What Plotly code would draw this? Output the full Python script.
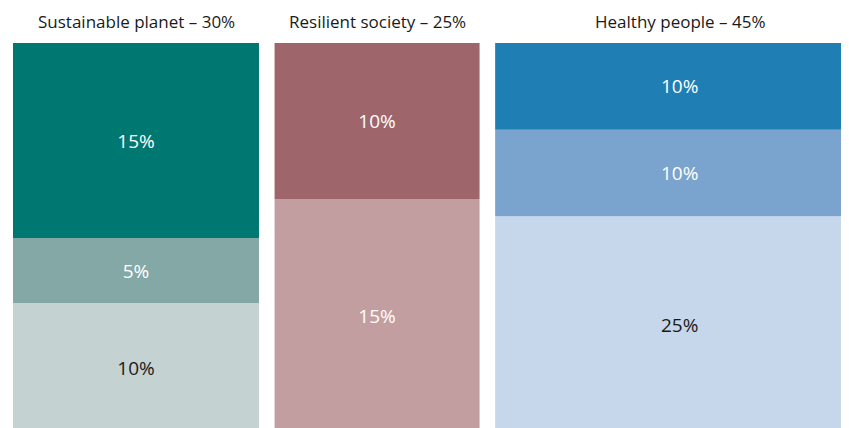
import plotly.graph_objects as go

# pillar names and their share of the total
pillars = ["Sustainable planet", "Resilient society", "Healthy people"]
pillar_share = [30, 25, 45]

# segments in each pillar, listed top to bottom
segment_values = [
    [15, 5, 10],
    [10, 15],
    [10, 10, 25],
]
segment_colors = [
    ["#007872", "#84a8a6", "#c4d2d2"],
    ["#9e666b", "#c39ea1"],
    ["#1f7eb4", "#7aa4cd", "#c6d6eb"],
]
segment_text_colors = [
    ["#ffffff", "#ffffff", "#1a1a1a"],
    ["#ffffff", "#ffffff"],
    ["#ffffff", "#ffffff", "#1a1a1a"],
]

GAP = 1.9  # space between columns, in share units
FONT = "'Open Sans', sans-serif"

fig = go.Figure()
annotations = []

left = 0
for name, share, vals, cols, tcols in zip(pillars, pillar_share, segment_values,
                                          segment_colors, segment_text_colors):
    center = left + share / 2
    total = sum(vals)
    # stack from the bottom up, each column scaled to 100
    base = 0
    for v, c, tc in reversed(list(zip(vals, cols, tcols))):
        h = v / total * 100
        fig.add_trace(go.Bar(
            x=[center], y=[h], base=[base], width=[share],
            marker=dict(color=c, line=dict(width=0)),
            opacity=1,
            text=[f"{v}%"], textposition="inside", insidetextanchor="middle",
            textfont=dict(color=tc, size=19, family=FONT),
            hoverinfo="skip",
        ))
        base += h
    annotations.append(dict(
        x=center, y=1, xref="x", yref="paper",
        text=f"{name} – {share}%", showarrow=False,
        yanchor="middle", yshift=22,
        font=dict(size=17, color="#1a1a1a", family=FONT),
    ))
    left += share + GAP

fig.update_layout(
    width=849, height=428,
    barmode="overlay",
    showlegend=False,
    plot_bgcolor="white", paper_bgcolor="white",
    margin=dict(l=0, r=0, t=35, b=0),
    xaxis=dict(range=[-0.61, 102.93], visible=False, fixedrange=True),
    yaxis=dict(range=[-0.77, 100], visible=False, fixedrange=True),
    annotations=annotations,
    uniformtext=dict(minsize=19, mode="show"),
)

fig.write_html("out.html")
